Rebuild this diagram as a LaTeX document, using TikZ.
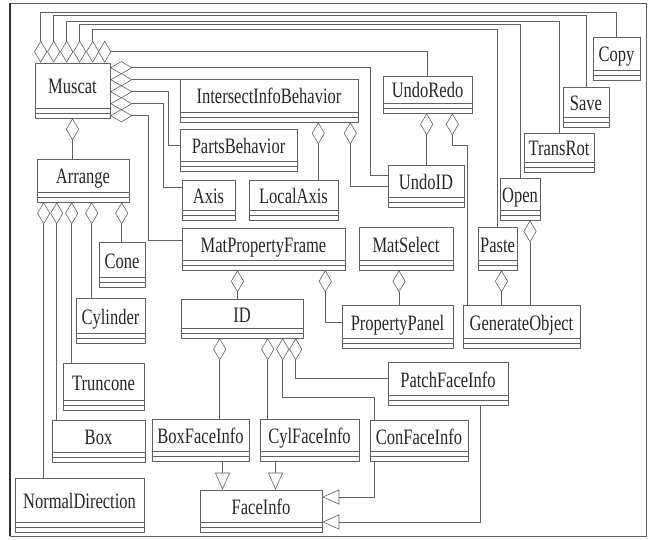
\documentclass[tikz,border=0pt]{standalone}
\usepackage{fontspec}
\setmainfont{Liberation Serif}
\newfontfamily\clsfont[FakeStretch=0.75]{Liberation Serif}
\usetikzlibrary{arrows.meta}

\definecolor{linegray}{gray}{0.38}

\tikzset{
  cls/.style 2 args={draw=linegray, line width=0.6pt, inner sep=0pt,
    minimum width=#1pt, minimum height=#2pt,
    font=\clsfont\fontsize{22pt}{24pt}\selectfont, text=black!85,
    text height=15pt, text depth=8pt},
  agg/.style={draw=linegray, line width=0.6pt, {Diamond[open,length=22pt,width=13pt]}-},
  gen/.style={draw=linegray, line width=0.6pt, -{Triangle[open,length=17pt,width=15pt]}},
}

\begin{document}
\begin{tikzpicture}[x=1pt,y=-1pt]

\useasboundingbox (0,0) rectangle (653,540);

% Moldura
\draw[linegray, line width=0.6pt] (10,3) rectangle (646,536);
\draw[black!80, line width=1.4pt] (10,3) -- (10,536);

% Classes
\node[cls={75}{55}] (muscat) at (72.5,90.5) {Muscat};
\node[cls={92}{43}] (arrange) at (83,180.5) {Arrange};
\node[cls={46}{45}] (cone) at (122,264.5) {Cone};
\node[cls={69}{45}] (cylinder) at (110.5,320.5) {Cylinder};
\node[cls={81}{47}] (truncone) at (103.5,386.5) {Truncone};
\node[cls={93}{42}] (box) at (98.5,441) {Box};
\node[cls={129}{54}] (normal) at (79.5,505) {NormalDirection};

\node[cls={178}{43}] (iib) at (269,100.5) {IntersectInfoBehavior};
\node[cls={117}{42}] (parts) at (238.5,150) {PartsBehavior};
\node[cls={53}{40}] (axis) at (208.5,200) {Axis};
\node[cls={89}{40}] (localaxis) at (293.5,200) {LocalAxis};
\node[cls={89}{37}] (undoredo) at (427.5,94.5) {UndoRedo};
\node[cls={76}{42}] (undoid) at (426,186) {UndoID};

\node[cls={47}{43}] (copy) at (616.5,58.5) {Copy};
\node[cls={46}{40}] (save) at (586,107) {Save};
\node[cls={70}{39}] (transrot) at (559,152.5) {TransRot};
\node[cls={40}{42}] (open) at (520,199) {Open};
\node[cls={39}{43}] (paste) at (497.5,248.5) {Paste};
\node[cls={117}{43}] (genobj) at (521.5,326.5) {GenerateObject};

\node[cls={163}{42}] (matframe) at (263.5,249) {MatPropertyFrame};
\node[cls={94}{43}] (matselect) at (406,248.5) {MatSelect};
\node[cls={111}{43}] (ppanel) at (397.5,326.5) {PropertyPanel};
\node[cls={122}{39}] (id) at (242,318.5) {ID};
\node[cls={120}{43}] (patch) at (448,383.5) {PatchFaceInfo};
\node[cls={97}{42}] (boxface) at (200.5,440) {BoxFaceInfo};
\node[cls={99}{42}] (cylface) at (309.5,440) {CylFaceInfo};
\node[cls={98}{41}] (conface) at (419,440.5) {ConFaceInfo};
\node[cls={122}{42}] (faceinfo) at (261,511) {FaceInfo};

% Compartimentos
\foreach \nd in {muscat,arrange,cone,cylinder,truncone,box,normal,iib,parts,axis,
    localaxis,undoredo,undoid,copy,save,transrot,open,paste,genobj,matframe,
    matselect,ppanel,id,patch,boxface,cylface,conface,faceinfo}
  \draw[linegray, line width=0.5pt]
    ([yshift=10pt]\nd.south west) -- ([yshift=10pt]\nd.south east)
    ([yshift=5pt]\nd.south west) -- ([yshift=5pt]\nd.south east);

% Muscat, topo
\foreach \dx/\h/\nd in {6/50/copy, 19/47/save, 32/41/transrot, 45/38/open, 58/33/paste}
  \draw[agg] ([xshift=\dx pt]muscat.north west) -- ++(0,-\h) -| (\nd.north);
\draw[agg] ([xshift=70pt]muscat.north west) -- ++(0,-22);
\coordinate (d6) at ([xshift=76.5pt,yshift=11pt]muscat.north west);
\draw[linegray, line width=0.6pt] (d6) -| (undoredo.north);

% Muscat, lado direito
\draw[agg] ([yshift=-5pt]muscat.north east) -- ++(260,0) |- ([yshift=11pt]undoid.west);
\draw[agg] ([yshift=-17pt]muscat.north east) coordinate (tmp) -- (tmp -| iib.west);
\draw[agg] ([yshift=-29pt]muscat.north east) -- ++(58,0) |- ([yshift=5pt]parts.west);
\draw[agg] ([yshift=-41pt]muscat.north east) -- ++(53,0) |- ([yshift=13pt]axis.west);
\draw[agg] ([yshift=-53pt]muscat.north east) -- ++(38,0) |- ([yshift=9pt]matframe.west);

% Muscat - Arrange
\draw[agg] (muscat.south) -- (muscat.south |- arrange.north);

% Arrange
\foreach \dx/\nd in {7/normal, 20/box, 35/truncone, 55/cylinder, 85/cone}
  \draw[agg] ([xshift=\dx pt]arrange.south west) coordinate (tmp) -- (tmp |- \nd.north);

% IntersectInfoBehavior e UndoRedo
\draw[agg] ([xshift=-40pt]iib.south east) coordinate (tmp) -- (tmp |- localaxis.north);
\draw[agg] ([xshift=-8pt]iib.south east) |- (undoid.west);
\draw[agg] ([xshift=44pt]undoredo.south west) coordinate (tmp) -- (tmp |- undoid.north);
\draw[agg] ([xshift=-20pt]undoredo.south east) -- ++(0,32) -| ([xshift=5pt]genobj.north west);

% Open e Paste
\draw[agg] ([xshift=10pt]open.south) coordinate (tmp) -- (tmp |- genobj.north);
\draw[agg] ([xshift=4pt]paste.south) coordinate (tmp) -- (tmp |- genobj.north);

% MatPropertyFrame e MatSelect
\draw[agg] ([xshift=-26pt]matframe.south) coordinate (tmp) -- (tmp |- id.north);
\draw[agg] ([xshift=-20pt]matframe.south east) |- ([yshift=4pt]ppanel.west);
\draw[agg] ([xshift=-7pt]matselect.south) coordinate (tmp) -- (tmp |- ppanel.north);

% ID
\draw[agg] ([xshift=39pt]id.south west) coordinate (tmp) -- (tmp |- boxface.north);
\draw[agg] ([xshift=87pt]id.south west) coordinate (tmp) -- (tmp |- cylface.north);
\draw[agg] ([xshift=102pt]id.south west) -- ++(0,59) -| ([xshift=5pt]conface.north west);
\draw[agg] ([xshift=115pt]id.south west) |- ([yshift=5pt]patch.west);

% Heranca
\draw[gen] ([xshift=22pt]boxface.south) coordinate (tmp) -- (tmp |- faceinfo.north);
\draw[gen] ([xshift=-34pt]cylface.south) coordinate (tmp) -- (tmp |- faceinfo.north);
\draw[gen] ([xshift=5pt]conface.south west) |- ([yshift=14pt]faceinfo.east);
\draw[gen] ([xshift=-28pt]patch.south east) |- ([yshift=-11pt]faceinfo.east);

\end{tikzpicture}
\end{document}
